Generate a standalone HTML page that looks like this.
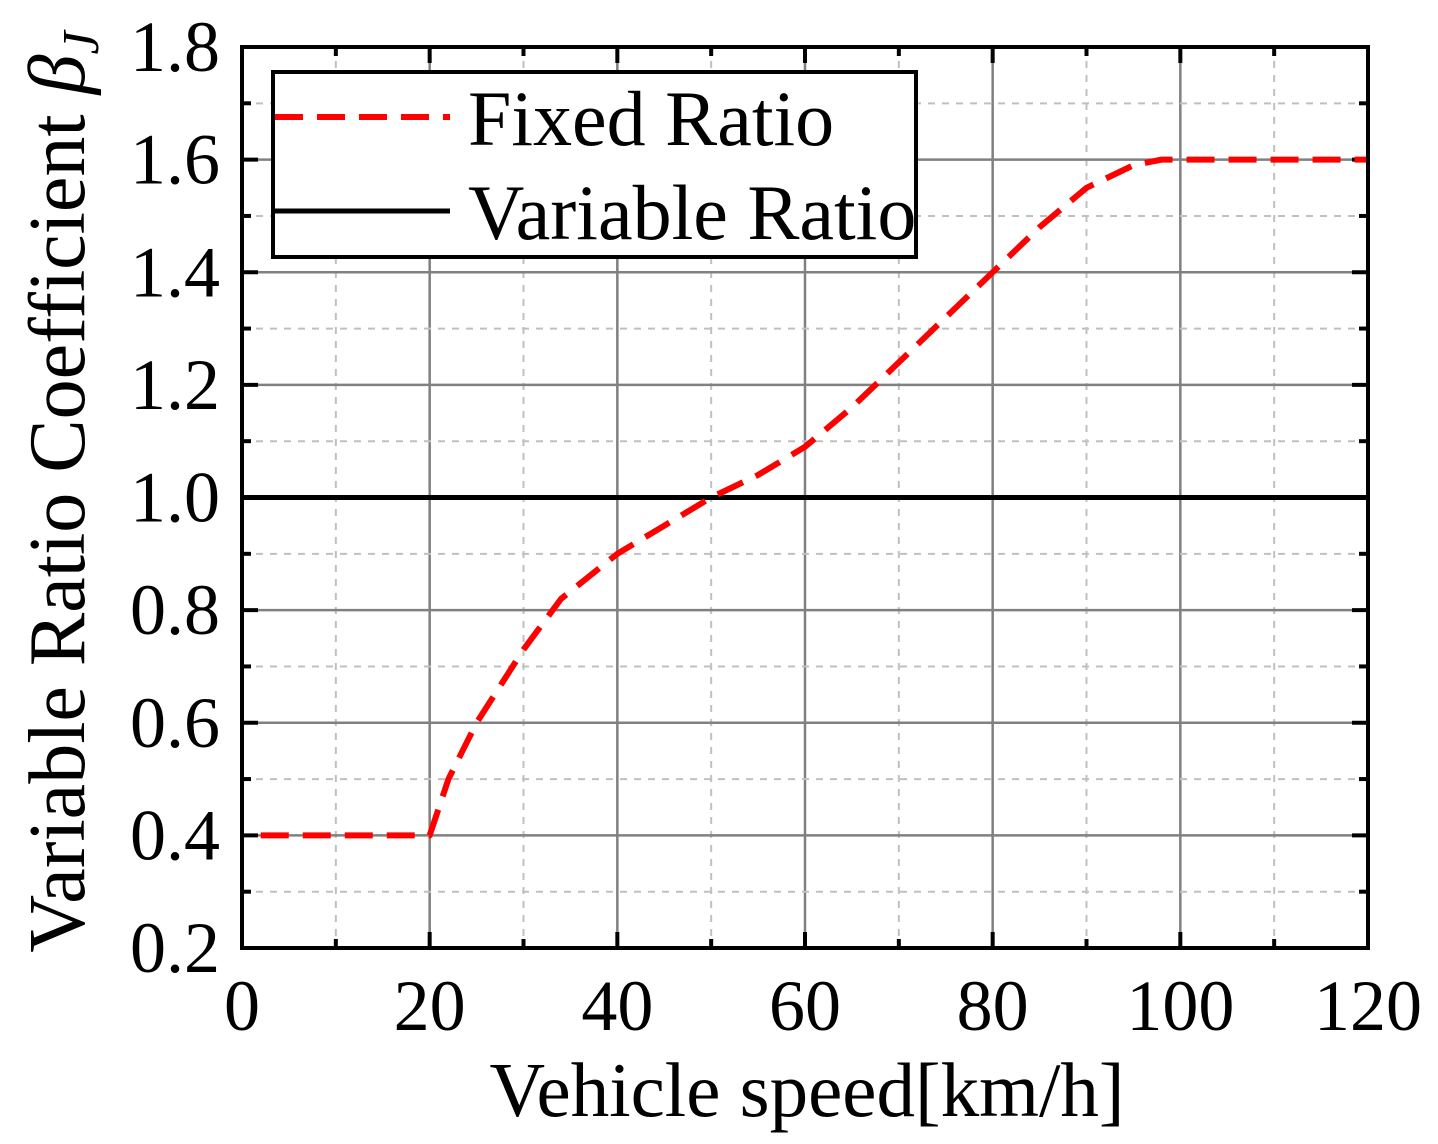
<!DOCTYPE html>
<html><head><meta charset="utf-8"><style>
html,body{margin:0;padding:0;background:#fff;}
svg{display:block;font-family:"Liberation Serif",serif;}
</style></head><body>
<svg id="chart" width="1438" height="1144" viewBox="0 0 1438 1144"></svg>
<script>
const xTicks=[0,20,40,60,80,100,120];
const yTicks=[0.2,0.4,0.6,0.8,1.0,1.2,1.4,1.6,1.8];
const fixedX=[2,20,22,25,30,34,40,45,50,55,60,65,70,75,80,85,90,95,98,120];
const fixedY=[0.4,0.4,0.5,0.6,0.73,0.82,0.9,0.95,1.0,1.04,1.09,1.16,1.24,1.32,1.4,1.48,1.55,1.59,1.6,1.6];
const variableX=[0,120];
const variableY=[1.0,1.0];
const L=242,R=1368,T=47,B=948;
const sx=v=>L+(v-0)/120*(R-L);
const sy=v=>B-(v-0.2)/1.6*(B-T);
const svg=document.getElementById('chart');
const NS='http://www.w3.org/2000/svg';
function mk(tag,attrs,parent){const e=document.createElementNS(NS,tag);for(const k in attrs)e.setAttribute(k,attrs[k]);(parent||svg).appendChild(e);return e;}
for(let v=10;v<120;v+=10){const major=v%20===0;const g=mk('line',{x1:sx(v),x2:sx(v),y1:T,y2:B,stroke:major?'#808080':'#c0c0c0','stroke-width':major?2.5:2,'stroke-dasharray':major?'none':'7,7'});

}
for(let i=1;i<16;i++){const v=0.2+i*0.1;const major=i%2===0;const g=mk('line',{x1:L,x2:R,y1:sy(v),y2:sy(v),stroke:major?'#808080':'#c0c0c0','stroke-width':major?2.5:2,'stroke-dasharray':major?'none':'7,7'});

}
for(let v=10;v<120;v+=10){const len=v%20===0?16:9;mk('line',{x1:sx(v),x2:sx(v),y1:B,y2:B-len,stroke:'#000','stroke-width':4});mk('line',{x1:sx(v),x2:sx(v),y1:T,y2:T+len,stroke:'#000','stroke-width':4});}
for(let i=1;i<16;i++){const v=0.2+i*0.1;const len=i%2===0?16:9;mk('line',{x1:L,x2:L+len,y1:sy(v),y2:sy(v),stroke:'#000','stroke-width':4});mk('line',{x1:R,x2:R-len,y1:sy(v),y2:sy(v),stroke:'#000','stroke-width':4});}
xTicks.forEach(v=>{const t=mk('text',{x:sx(v),y:1030,'font-size':72,'text-anchor':'middle'});t.textContent=v;

});
yTicks.forEach(v=>{const t=mk('text',{x:220,y:sy(v)+24,'font-size':72,'text-anchor':'end'});t.textContent=v.toFixed(1);

});
const vl=mk('polyline',{points:variableX.map((x,i)=>sx(x)+','+sy(variableY[i])).join(' '),fill:'none',stroke:'#000','stroke-width':5});


const fl=mk('polyline',{points:fixedX.map((x,i)=>sx(x)+','+sy(fixedY[i])).join(' '),fill:'none',stroke:'#ff0000','stroke-width':6,'stroke-dasharray':'28,14','stroke-linejoin':'round'});


const fr=mk('rect',{x:L,y:T,width:R-L,height:B-T,fill:'none',stroke:'#000','stroke-width':4});


const lg=mk('g',{});


mk('rect',{x:273,y:72,width:643,height:185,fill:'#fff',stroke:'#000','stroke-width':4},lg);
mk('line',{x1:275,x2:450,y1:117,y2:117,stroke:'#ff0000','stroke-width':6,'stroke-dasharray':'28,14'},lg);
const t1=mk('text',{x:468,y:145,'font-size':78},lg);t1.textContent='Fixed Ratio';


mk('line',{x1:275,x2:450,y1:211,y2:211,stroke:'#000','stroke-width':5},lg);
const t2=mk('text',{x:468,y:239,'font-size':78},lg);t2.textContent='Variable Ratio';


const xt=mk('text',{x:807,y:1116,'font-size':77,'text-anchor':'middle'});xt.textContent='Vehicle speed[km/h]';


const yt=mk('text',{x:0,y:0,'font-size':80,'text-anchor':'middle',transform:'translate(84,492) rotate(-90)'});
yt.innerHTML='Variable Ratio Coefficient <tspan font-style="italic">β</tspan><tspan font-style="italic" font-size="52" dy="14">J</tspan>';


</script>
</body></html>
